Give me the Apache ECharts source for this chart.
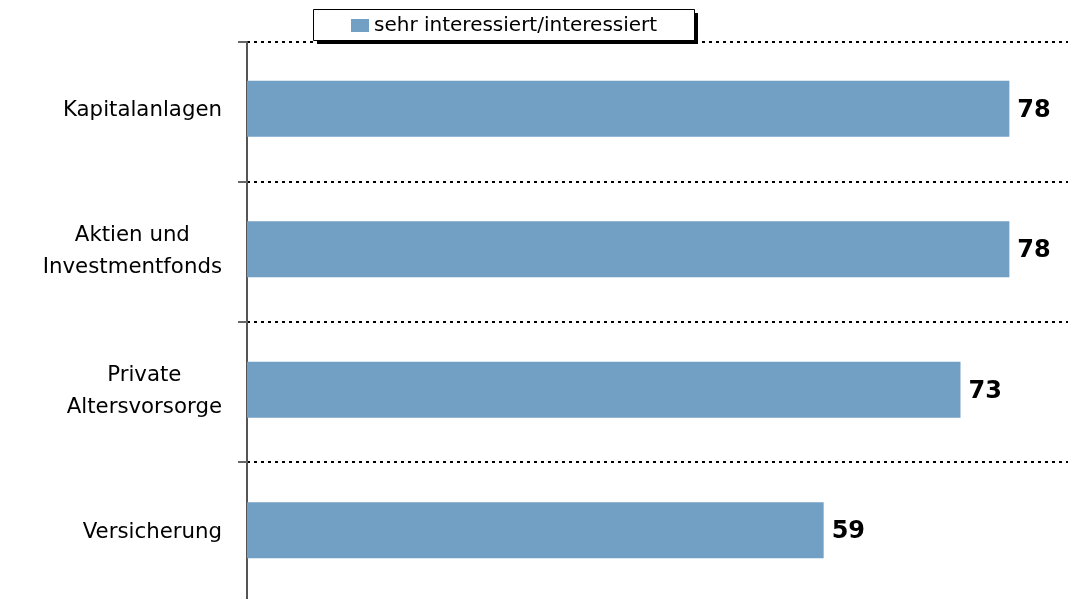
<!DOCTYPE html>
<html>
<head>
<meta charset="utf-8">
<script src="https://cdn.jsdelivr.net/npm/echarts@6/dist/echarts.min.js"></script>
<style>
html,body{margin:0;padding:0;background:#fff;}
#chart{width:1068px;height:599px;}
</style>
</head>
<body>
<div id="chart"></div>
<script>
const categories = ['Kapitalanlagen', 'Aktien und\nInvestmentfonds', 'Private\nAltersvorsorge', 'Versicherung'];
const seriesName = 'sehr interessiert/interessiert';
const values = [78, 78, 73, 59];

const chart = echarts.init(document.getElementById('chart'));
chart.setOption({
  animation: false,
  backgroundColor: '#ffffff',
  graphic: [
    { type: 'rect', z: 1, shape: { x: 317, y: 13, width: 381, height: 31 }, style: { fill: '#000' } },
    { type: 'rect', z: 2, shape: { x: 313.5, y: 9.5, width: 381, height: 31 }, style: { fill: '#fff', stroke: '#000', lineWidth: 1 } }
  ],
  legend: {
    z: 10,
    data: [seriesName],
    left: 351,
    top: 15,
    padding: 0,
    itemWidth: 18,
    itemHeight: 13,
    itemGap: 5,
    icon: 'rect',
    textStyle: { fontFamily: 'DejaVu Sans', fontSize: 20, color: '#000', lineHeight: 21 }
  },
  grid: [
    { left: 247, top: 38.5, width: 821, height: 562, outerBoundsMode: 'none', containLabel: false },
    { left: 247, top: 42, width: 821, height: 560, outerBoundsMode: 'none', containLabel: false }
  ],
  xAxis: [
    { type: 'value', min: 0, max: 84, show: false, gridIndex: 0 },
    { type: 'value', min: 0, max: 84, show: false, gridIndex: 1 }
  ],
  yAxis: [
    {
      gridIndex: 0,
      type: 'category',
      data: categories,
      inverse: true,
      axisLine: { show: false },
      axisTick: { show: false },
      splitLine: { show: false },
      axisLabel: {
        margin: 25,
        fontFamily: 'DejaVu Sans',
        fontSize: 21.3,
        color: '#000',
        align: 'right',
        lineHeight: 32,
        padding: [4, 0, 0, 0],
        formatter: function (v) {
          return v.split('\n').map(function (s) { return '{c|' + s + '}'; }).join('\n');
        },
        rich: { c: { align: 'center', fontFamily: 'DejaVu Sans', fontSize: 21.3, color: '#000', lineHeight: 32 } }
      }
    },
    {
      gridIndex: 1,
      type: 'category',
      data: categories,
      inverse: true,
      axisLine: { show: true, lineStyle: { color: '#555', width: 2 } },
      axisTick: { show: true, length: 9, lineStyle: { color: '#666', width: 2 } },
      splitLine: { show: true, lineStyle: { color: '#000', width: 2, type: [3, 4] } },
      axisLabel: { show: false }
    }
  ],
  series: [{
    name: seriesName,
    type: 'bar',
    xAxisIndex: 0,
    yAxisIndex: 0,
    data: values,
    barWidth: 56,
    itemStyle: { color: '#729fc4' },
    label: {
      show: true, position: 'right', distance: 8, offset: [0, 2],
      fontFamily: 'DejaVu Sans', fontSize: 24, fontWeight: 'bold', color: '#000'
    }
  }]
});
</script>
</body>
</html>
